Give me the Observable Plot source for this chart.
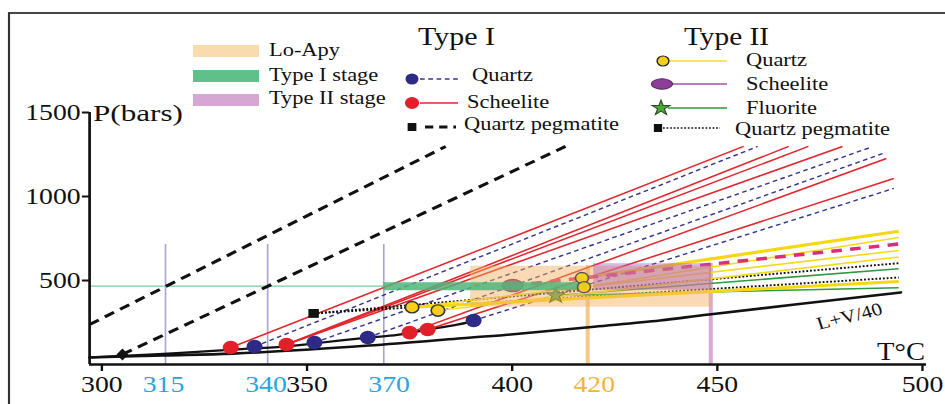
<!DOCTYPE html>
<html><head><meta charset="utf-8">
<script src="https://cdn.jsdelivr.net/npm/d3@7"></script>
<script src="https://cdn.jsdelivr.net/npm/@observablehq/plot@0.6"></script>
<style>
html,body{margin:0;padding:0;background:#fff;}
#chart{width:945px;height:404px;overflow:hidden;}
#chart svg [aria-label="x-axis tick label"], #chart svg [aria-label="y-axis tick label"]{font-family:"Liberation Serif","Times New Roman",serif;font-size:23.5px;}
</style></head>
<body><div id="chart"></div>
<script>
// ---------- data (T in °C, P in bars) ----------
const xDomain = [297, 501];
const yDomain = [0, 1500];
const xTicks = [300, 350, 400, 450, 500];
const yTicks = [500, 1000, 1500];
const blueTickLabels = [315, 340, 370];
const orangeTickLabels = [420];

// Type I fluid inclusions
const typeIQuartz = [{T:337.2,P:107},{T:351.8,P:131},{T:364.8,P:161},{T:390.6,P:262}];
const typeIScheelite = [{T:331.4,P:101},{T:345.0,P:119},{T:375.0,P:190},{T:379.4,P:208}];
const typeIQuartzIsochores = [{from:0,T:459.8,P:1298},{from:1,T:487.3,P:1292},{from:2,T:491.0,P:1262},{from:3,T:493.0,P:1048}];
const typeIScheeliteIsochores = [{from:0,T:456.4,P:1298},{from:1,T:467.4,P:1298},{from:1,T:472.2,P:1298},{from:1,T:480.5,P:1298},{from:2,T:491.2,P:1226},{from:3,T:493.0,P:1107}];
const typeIPegmatitePoint = [{T:305.0,P:60}];
const typeIPegmatiteIsochores = [{T0:297,P0:238,T1:383.8,P1:1298},{T0:305.0,P0:60,T1:413.0,P1:1298}];

// Type II fluid inclusions
const typeIIQuartz = [{T:375.6,P:341},{T:381.9,P:321},{T:417.0,P:515},{T:417.5,P:460}];
const typeIIQuartzIsochores = [{from:2,T:494.2,P:793},{from:3,T:494.2,P:756},{from:0,T:494.2,P:679},{from:1,T:494.2,P:640},{from:0,T:494.2,P:494}];
const typeIIScheelite = [{T:400.1,P:470}];
const typeIIScheeliteIsochores = [{from:0,T:494.2,P:717}];
const typeIIFluorite = [{T:410.6,P:411}];
const typeIIFluoriteIsochores = [{from:0,T:494.2,P:570},{from:0,T:494.2,P:457}];
const typeIIPegmatite = [{T:351.6,P:304}];
const typeIIPegmatiteIsochores = [{from:0,T:494.2,P:603},{from:0,T:494.2,P:518}];

// curves
const lv40Curve = [[297,42],[315,54],[332,65],[365,113],[390,161],[397,173],[420,225],[436,262],[448,298],[494.7,429]];
const trappingCurve = [[297,42],[315,63],[332,89],[345,108],[351.6,125],[364.8,160],[372,176],[379.4,208],[386,234],[390.6,258]];

// isotherms and fields
const refIsotherms = [{T:315.5,P:714},{T:340.4,P:714},{T:368.7,P:714}];
const loApyIsotherm = [{T:418.4,P:589}];
const typeIIIsotherm = [{T:448.4,P:601}];
const loApyField = [{T1:389.9,T2:448.6,P1:341,P2:585}];
const typeIIStageField = [{T1:419.9,T2:448.6,P1:442,P2:600}];
const typeIStage = [{T1:368.7,T2:418.5,P:466}];
const typeIStageGuide = [{T1:297,T2:368.7,P:466}];
const axisLinesX = [{T1:xDomain[0],T2:xDomain[1],P:yDomain[0]}];
const axisLinesY = [{T:xDomain[0],P1:yDomain[0],P2:yDomain[1]}];
const thickYellow = [0, 4];

// ---------- helpers ----------
const W = 800, H = 404, K = 945 / W;
const bx = px => px / K;
const seg = (pts, lines) => lines.map((l, i) => ({i, T0: pts[l.from].T, P0: pts[l.from].P, T1: l.T, P1: l.P}));
const ellipseSymbol = (rx, ry) => ({draw(ctx){const k=0.5523;ctx.moveTo(rx,0);ctx.bezierCurveTo(rx,ry*k,rx*k,ry,0,ry);ctx.bezierCurveTo(-rx*k,ry,-rx,ry*k,-rx,0);ctx.bezierCurveTo(-rx,-ry*k,-rx*k,-ry,0,-ry);ctx.bezierCurveTo(rx*k,-ry,rx,-ry*k,rx,0);ctx.closePath();}});
const rhombus = (rx, ry) => ({draw(ctx){ctx.moveTo(0,-ry);ctx.lineTo(rx,0);ctx.lineTo(0,ry);ctx.lineTo(-rx,0);ctx.closePath();}});
const L = {x1:"T0", y1:"P0", x2:"T1", y2:"P1"};
const FONT = "Liberation Serif, Times New Roman, serif";

const plot = Plot.plot({
  width: W, height: H,
  marginLeft: bx(89), marginRight: W - bx(926), marginTop: 112, marginBottom: 40,
  x: {domain: xDomain},
  y: {domain: yDomain},
  style: {background: "white"},
  marks: [
    Plot.ruleX(refIsotherms, {x:"T", y1:0, y2:"P", stroke:"#a9a5d2", strokeWidth:1.4}),
    Plot.ruleX(loApyIsotherm, {x:"T", y1:0, y2:"P", stroke:"#f6c888", strokeWidth:3.4}),
    Plot.ruleX(typeIIIsotherm, {x:"T", y1:0, y2:"P", stroke:"#d9a8d4", strokeWidth:3.4}),
    Plot.ruleY(typeIStageGuide, {y:"P", x1:"T1", x2:"T2", stroke:"#7dca9a", strokeWidth:1.3}),
    Plot.line(lv40Curve, {x:d=>d[0], y:d=>d[1], curve:"catmull-rom", stroke:"#111", strokeWidth:2.6}),
    Plot.line(trappingCurve, {x:d=>d[0], y:d=>d[1], curve:"catmull-rom", stroke:"#111", strokeWidth:2.2}),
    Plot.link(typeIPegmatiteIsochores, {...L, stroke:"#111", strokeWidth:3, strokeDasharray:"9,6"}),
    Plot.link(seg(typeIQuartz, typeIQuartzIsochores), {...L, stroke:"#35348f", strokeWidth:1.4, strokeDasharray:"4,3"}),
    Plot.link(seg(typeIScheelite, typeIScheeliteIsochores), {...L, stroke:"#e3262d", strokeWidth:1.5}),
    Plot.link(seg(typeIIPegmatite, typeIIPegmatiteIsochores), {...L, stroke:"#111", strokeWidth:1.9, strokeDasharray:"1.6,1.6"}),
    Plot.link(seg(typeIIFluorite, typeIIFluoriteIsochores), {...L, stroke:"#2d9a41", strokeWidth:1.6}),
    Plot.link(seg(typeIIQuartz, typeIIQuartzIsochores), {...L, filter:d=>!thickYellow.includes(d.i), stroke:"#f6da1c", strokeWidth:1.6}),
    Plot.link(seg(typeIIQuartz, typeIIQuartzIsochores), {...L, filter:d=>thickYellow.includes(d.i), stroke:"#f6d812", strokeWidth:3.2}),
    Plot.link(seg(typeIIScheelite, typeIIScheeliteIsochores), {...L, stroke:"#e02a7a", strokeWidth:3.5, strokeDasharray:"9,7"}),
    Plot.dot(typeIScheelite, {x:"T", y:"P", r:6.8, fill:"#e3202a"}),
    Plot.dot(typeIQuartz, {x:"T", y:"P", r:6.8, fill:"#2e2b88"}),
    Plot.dot(typeIIQuartz, {filter:d=>d.T<400, x:"T", y:"P", r:5.7, fill:"#f7cf1a", stroke:"#333", strokeWidth:1.4}),
    Plot.dot(typeIIPegmatite, {x:"T", y:"P", symbol:"square", r:5, fill:"#111"}),
    Plot.dot(typeIPegmatitePoint, {x:"T", y:"P", symbol:rhombus(5,6), fill:"#111"}),
    Plot.dot(typeIIScheelite, {x:"T", y:"P", symbol:ellipseSymbol(8.5,6), fill:"#8b3f97", stroke:"#5a2a60"}),
    Plot.dot(typeIIFluorite, {x:"T", y:"P", symbol:"star", r:5, fill:"#4fa63d", stroke:"#2c5a1e", strokeWidth:1}),
    Plot.rect(loApyField, {x1:"T1", x2:"T2", y1:"P1", y2:"P2", fill:"#f3b262", fillOpacity:0.48}),
    Plot.rect(typeIIStageField, {x1:"T1", x2:"T2", y1:"P1", y2:"P2", fill:"#a958b4", fillOpacity:0.42}),
    Plot.ruleY(typeIStage, {y:"P", x1:"T1", x2:"T2", stroke:"#4db57a", strokeWidth:8, strokeOpacity:0.85}),
    Plot.dot(typeIIQuartz, {filter:d=>d.T>=400, x:"T", y:"P", r:5.5, fill:"#f7cf1a", stroke:"#555", strokeWidth:1.3, fillOpacity:0.9}),
    Plot.ruleY(axisLinesX, {y:"P", x1:"T1", x2:"T2", stroke:"#111", strokeWidth:2.6}),
    Plot.ruleX(axisLinesY, {x:"T", y1:"P1", y2:"P2", stroke:"#111", strokeWidth:2.3}),
    Plot.axisX({ticks:xTicks, tickSize:7, tickPadding:4, tickFormat:d=>String(d), label:null, color:"#111", strokeWidth:2, fontSize:23.5, fontFamily:FONT}),
    Plot.axisX({ticks:blueTickLabels, tickSize:0, tickPadding:11, tickFormat:d=>String(d), label:null, color:"#27a6df", fontSize:23.5, fontFamily:FONT}),
    Plot.axisX({ticks:orangeTickLabels, tickSize:0, tickPadding:11, tickFormat:d=>String(d), label:null, color:"#f4b43c", fontSize:23.5, fontFamily:FONT}),
    Plot.axisY({ticks:yTicks, tickSize:6, tickPadding:1.5, tickFormat:d=>String(d), label:null, color:"#111", strokeWidth:2, fontSize:23.5, fontFamily:FONT})
  ]
});

plot.setAttribute("width", 945);
plot.setAttribute("height", 404);
plot.setAttribute("viewBox", `0 0 ${W} ${H}`);
plot.setAttribute("preserveAspectRatio", "none");
plot.setAttribute("style", "display:block;width:945px;height:404px;max-width:none;background:white;");
document.getElementById("chart").appendChild(plot);

// ---------- annotations & legend ----------
const g = d3.select(plot).append("g");
g.append("rect").attr("x", bx(9)).attr("y", 13).attr("width", W).attr("height", H)
  .attr("fill", "none").attr("stroke", "#333").attr("stroke-width", 1.8);
function txt(x, y, s, size, o = {}) {
  const t = g.append("text").attr("x", bx(x)).attr("y", y).attr("font-family", FONT)
    .attr("font-size", size).attr("fill", o.fill || "#111").attr("text-anchor", o.anchor || "start").text(s);
  if (o.len) t.attr("textLength", bx(o.len)).attr("lengthAdjust", "spacingAndGlyphs");
  return t;
}
function hline(x1, x2, y, stroke, w, dash) {
  const l = g.append("line").attr("x1", bx(x1)).attr("x2", bx(x2)).attr("y1", y).attr("y2", y)
    .attr("stroke", stroke).attr("stroke-width", w);
  if (dash) l.attr("stroke-dasharray", dash);
}
// axis titles
txt(93, 121, "P(bars)", 23, {len: 90});
txt(877, 360, "T°C", 25, {len: 48});
g.append("text").attr("transform", `translate(${bx(850)},318) rotate(-16)`).attr("text-anchor", "middle")
  .attr("dominant-baseline", "middle").attr("font-family", FONT).attr("font-size", 18).attr("fill", "#111").text("L+V/40");

// field legend
[["Lo-Apy", "#f9dbb0", 45, 56], ["Type I stage", "#5fc08a", 70, 81], ["Type II stage", "#d6a7d2", 94, 104.5]].forEach(([s, c, y, b]) => {
  g.append("rect").attr("x", bx(193)).attr("y", y).attr("width", bx(259) - bx(193)).attr("height", 12).attr("fill", c);
  txt(269, b, s, 19);
});
// Type I legend
txt(418, 45, "Type I", 25, {len: 77});
hline(420, 461, 79, "#35348f", 1.4, "4,3");
g.append("circle").attr("cx", bx(412)).attr("cy", 79).attr("r", 5.5).attr("fill", "#2e2b88");
txt(472, 81, "Quartz", 19);
hline(420, 458, 103, "#e3262d", 1.5);
g.append("circle").attr("cx", bx(412)).attr("cy", 103).attr("r", 6).attr("fill", "#e3202a");
txt(467, 108, "Scheelite", 19);
hline(425, 456, 127, "#111", 3, "7,5");
g.append("rect").attr("x", bx(412) - 3.7).attr("y", 123).attr("width", 7.4).attr("height", 8).attr("fill", "#111");
txt(464, 130, "Quartz pegmatite", 19);
// Type II legend
txt(684, 45, "Type II", 25, {len: 85});
hline(668, 727, 61, "#f3dc2a", 1.6);
g.append("circle").attr("cx", bx(663)).attr("cy", 61).attr("r", 5).attr("fill", "#f7cf1a").attr("stroke", "#222").attr("stroke-width", 1.2);
txt(746, 66, "Quartz", 19);
hline(672, 727, 84, "#a052a8", 1.6);
g.append("ellipse").attr("cx", bx(662)).attr("cy", 84).attr("rx", 8.9).attr("ry", 5.2).attr("fill", "#8b3f97").attr("stroke", "#5a2a60");
txt(746, 90, "Scheelite", 19);
hline(668, 727, 108, "#2a9a3c", 1.6);
g.append("path").attr("d", d3.symbol(d3.symbolStar, 70)()).attr("transform", `translate(${bx(661)},108)`)
  .attr("fill", "#4fa63d").attr("stroke", "#234d1a").attr("stroke-width", 1);
txt(746, 114, "Fluorite", 19);
hline(663, 720, 128, "#111", 1.4, "1.5,1.5");
g.append("rect").attr("x", bx(658) - 3.5).attr("y", 124).attr("width", 7).attr("height", 8).attr("fill", "#111");
txt(735, 135, "Quartz pegmatite", 19);
</script>
</body></html>
